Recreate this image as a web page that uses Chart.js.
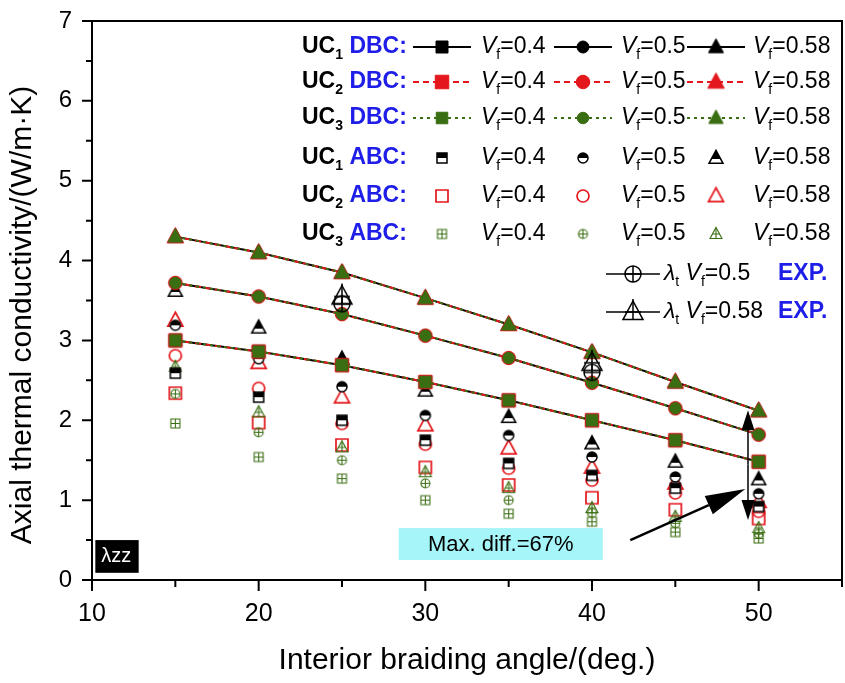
<!DOCTYPE html>
<html>
<head>
<meta charset="utf-8">
<script src="https://cdn.jsdelivr.net/npm/chart.js@4/dist/chart.umd.min.js"></script>
<style>
  body { margin: 0; background: #fff; }
</style>
</head>
<body>
<canvas id="chart" width="845" height="683"></canvas>
<script>
// interior braiding angles (deg.)
const angles = [15, 20, 25, 30, 35, 40, 45, 50];

// DBC predictions (UC1, UC2 and UC3 give the same curves)
const dbcVf04 = [3.0, 2.86, 2.69, 2.48, 2.25, 2.0, 1.75, 1.48];
const dbcVf05 = [3.72, 3.55, 3.33, 3.06, 2.78, 2.47, 2.15, 1.82];
const dbcVf058 = [4.3, 4.1, 3.85, 3.53, 3.2, 2.85, 2.48, 2.12];

// ABC predictions
const uc1AbcVf04 = [2.59, 2.29, 2.0, 1.75, 1.46, 1.31, 1.15, 0.92];
const uc1AbcVf05 = [3.19, 2.77, 2.42, 2.06, 1.81, 1.54, 1.29, 1.08];
const uc1AbcVf058 = [3.62, 3.16, 2.77, 2.37, 2.04, 1.71, 1.48, 1.26];
const uc2AbcVf04 = [2.34, 1.97, 1.69, 1.41, 1.19, 1.03, 0.88, 0.77];
const uc2AbcVf05 = [2.81, 2.4, 1.96, 1.7, 1.4, 1.25, 1.09, 0.86];
const uc2AbcVf058 = [3.25, 2.72, 2.29, 1.94, 1.65, 1.41, 1.21, 0.98];
const uc3AbcVf04 = [1.96, 1.54, 1.27, 1.0, 0.83, 0.73, 0.6, 0.52];
const uc3AbcVf05 = [2.33, 1.85, 1.5, 1.21, 1.0, 0.84, 0.71, 0.58];
const uc3AbcVf058 = [2.67, 2.1, 1.66, 1.35, 1.15, 0.9, 0.79, 0.65];

// experiments (lambda_t)
const expAngles = [25, 40];
const expVf05 = [3.46, 2.6];
const expVf058 = [3.55, 2.72];

const xTicks = [10, 20, 30, 40, 50];
const yTicks = [0, 1, 2, 3, 4, 5, 6, 7];
const vfNames = ['0.4', '0.5', '0.58'];

const F = 'Liberation Sans, Arial, sans-serif';
const RED = '#e3171c';
const GREEN = '#3a6e12';
const BLUE = '#1e1ee8';

// marker images
function shapePath(g, shape, c, s) {
  g.beginPath();
  if (shape === 'square') g.rect(c - s / 2, c - s / 2, s, s);
  else if (shape === 'circle') g.arc(c, c, s / 2, 0, Math.PI * 2);
  else {
    g.moveTo(c, c - s * 0.55);
    g.lineTo(c + s / 2, c + s * 0.38);
    g.lineTo(c - s / 2, c + s * 0.38);
    g.closePath();
  }
}

function makeMarker(shape, s, o) {
  const n = Math.ceil(s + 8);
  const cv = document.createElement('canvas');
  cv.width = cv.height = n;
  const g = cv.getContext('2d');
  const c = n / 2;
  if (o.fill) {
    shapePath(g, shape, c, s);
    g.fillStyle = o.fill;
    g.fill();
  }
  if (o.half) {
    g.save();
    shapePath(g, shape, c, s);
    g.clip();
    g.fillStyle = o.half;
    g.fillRect(0, 0, n, shape === 'triangle' ? c + 1 : c);
    g.restore();
  }
  g.strokeStyle = o.stroke;
  g.lineWidth = o.lw;
  if (o.cross) {
    g.beginPath();
    if (shape === 'triangle') {
      g.moveTo(c, c - s * 0.55 - o.ext);
      g.lineTo(c, c + s * 0.38);
      g.moveTo(c - s * 0.3 - o.ext, c);
      g.lineTo(c + s * 0.3 + o.ext, c);
    } else {
      g.moveTo(c, c - s / 2 - o.ext);
      g.lineTo(c, c + s / 2 + o.ext);
      g.moveTo(c - s / 2 - o.ext, c);
      g.lineTo(c + s / 2 + o.ext, c);
    }
    g.stroke();
  }
  shapePath(g, shape, c, s);
  g.stroke();
  return cv;
}

const shapes = ['square', 'circle', 'triangle'];
const dbcSize = { square: 12, circle: 12, triangle: 15 };
const dbcMarks = [
  shapes.map(sh => makeMarker(sh, dbcSize[sh], { fill: '#000', stroke: '#000', lw: 1 })),
  shapes.map(sh => makeMarker(sh, dbcSize[sh] + 1.5, { fill: RED, stroke: RED, lw: 1 })),
  shapes.map(sh => makeMarker(sh, dbcSize[sh] - 0.5, { fill: GREEN, stroke: GREEN, lw: 1 }))
];
const abcMarks = [
  shapes.map(sh => makeMarker(sh, sh === 'triangle' ? 14 : 10, { fill: '#fff', half: '#000', stroke: '#000', lw: 1.5 })),
  shapes.map(sh => makeMarker(sh, sh === 'triangle' ? 15 : 12, { stroke: RED, lw: 1.7 })),
  shapes.map(sh => makeMarker(sh, sh === 'triangle' ? 12 : 9, { cross: true, ext: 0, stroke: GREEN, lw: 1.1 }))
];
const expMarks = [
  makeMarker('circle', 16, { cross: true, ext: 0, stroke: '#000', lw: 1.5 }),
  makeMarker('triangle', 20, { cross: true, ext: 2, stroke: '#000', lw: 1.5 })
];

function pts(xs, ys) {
  return xs.map((a, i) => ({ x: a, y: ys[i] }));
}

const dbcData = [dbcVf04, dbcVf05, dbcVf058];
const abcData = [
  [uc1AbcVf04, uc1AbcVf05, uc1AbcVf058],
  [uc2AbcVf04, uc2AbcVf05, uc2AbcVf058],
  [uc3AbcVf04, uc3AbcVf05, uc3AbcVf058]
];
const lineColors = ['#000', RED, GREEN];
const lineDash = [[], [6, 4], [3, 4]];
const dbcOrder = [3, 2, 1];
const abcOrder = [4, 6, 5];

const datasets = [];
for (let u = 0; u < 3; u++) {
  for (let v = 0; v < 3; v++) {
    datasets.push({
      label: 'UC' + (u + 1) + ' DBC Vf=' + vfNames[v],
      data: pts(angles, dbcData[v]),
      showLine: true,
      borderColor: lineColors[u],
      borderWidth: 2,
      borderDash: lineDash[u],
      pointStyle: dbcMarks[u][v],
      order: dbcOrder[u]
    });
  }
}
for (let u = 0; u < 3; u++) {
  for (let v = 0; v < 3; v++) {
    datasets.push({
      label: 'UC' + (u + 1) + ' ABC Vf=' + vfNames[v],
      data: pts(angles, abcData[u][v]),
      showLine: false,
      pointStyle: abcMarks[u][v],
      order: abcOrder[u]
    });
  }
}
datasets.push({ label: 'EXP Vf=0.5', data: pts(expAngles, expVf05), showLine: false, pointStyle: expMarks[0], order: 0 });
datasets.push({ label: 'EXP Vf=0.58', data: pts(expAngles, expVf058), showLine: false, pointStyle: expMarks[1], order: 0 });

// text helpers
function rich(ctx, x, y, parts) {
  ctx.textBaseline = 'middle';
  ctx.textAlign = 'left';
  parts.forEach(p => {
    ctx.font = p.font;
    ctx.fillStyle = p.color || '#000';
    ctx.fillText(p.t, x, y + (p.dy || 0));
    x += ctx.measureText(p.t).width;
  });
  return x;
}
function ucLabel(ctx, x, y, n, kind) {
  rich(ctx, x, y, [
    { t: 'UC', font: 'bold 23px ' + F },
    { t: n, font: 'bold 14px ' + F, dy: 8 },
    { t: ' ' + kind + ':', font: 'bold 23px ' + F, color: BLUE }
  ]);
}
function vfParts(v) {
  return [
    { t: 'V', font: 'italic 23px ' + F },
    { t: 'f', font: '14px ' + F, dy: 8 },
    { t: '=' + v, font: '23px ' + F }
  ];
}
function putImg(ctx, img, x, y) {
  ctx.drawImage(img, x - img.width / 2, y - img.height / 2);
}
function arrow(ctx, x0, y0, x1, y1, len, half) {
  const a = Math.atan2(y1 - y0, x1 - x0);
  const bx = x1 - len * Math.cos(a), by = y1 - len * Math.sin(a);
  ctx.beginPath();
  ctx.moveTo(x0, y0);
  ctx.lineTo(bx, by);
  ctx.stroke();
  ctx.beginPath();
  ctx.moveTo(x1, y1);
  ctx.lineTo(bx + half * Math.sin(a), by - half * Math.cos(a));
  ctx.lineTo(bx - half * Math.sin(a), by + half * Math.cos(a));
  ctx.closePath();
  ctx.fill();
}

const legendCols = [442, 583, 716];
const legendText = [481, 621, 753];
const legendRowsY = [47, 82, 118, 158, 196, 234, 274, 312];

const decor = {
  id: 'decor',
  beforeDatasetsDraw(chart) {
    const { ctx, scales: { x, y } } = chart;
    ctx.save();
    // cyan note box
    const bx0 = x.getPixelForValue(28.4), bx1 = x.getPixelForValue(40.65);
    const by0 = y.getPixelForValue(0.65), by1 = y.getPixelForValue(0.25);
    ctx.fillStyle = '#a6f5f8';
    ctx.fillRect(bx0, by0, bx1 - bx0, by1 - by0);
    ctx.fillStyle = '#000';
    ctx.font = '22px ' + F;
    ctx.textAlign = 'center';
    ctx.textBaseline = 'middle';
    ctx.fillText('Max. diff.=67%', (bx0 + bx1) / 2, (by0 + by1) / 2 + 1);
    ctx.restore();
  },
  afterDatasetsDraw(chart) {
    const { ctx, chartArea: ca, scales: { x, y } } = chart;
    ctx.save();
    ctx.fillStyle = '#000';
    ctx.strokeStyle = '#000';
    // vertical double arrow
    const ax = x.getPixelForValue(49.36);
    const ym = y.getPixelForValue(1.45);
    ctx.lineWidth = 1.5;
    arrow(ctx, ax, ym, ax, y.getPixelForValue(2.125), 20, 6.5);
    arrow(ctx, ax, ym, ax, y.getPixelForValue(0.75), 20, 6.5);
    // diagonal arrow
    ctx.lineWidth = 2.5;
    arrow(ctx, x.getPixelForValue(42.3), y.getPixelForValue(0.5), x.getPixelForValue(49.2), y.getPixelForValue(1.14), 40, 10);

    // lambda_zz tag
    const tx0 = x.getPixelForValue(10.2), tx1 = x.getPixelForValue(12.8);
    const ty0 = y.getPixelForValue(0.5), ty1 = y.getPixelForValue(0.09);
    ctx.fillRect(tx0, ty0, tx1 - tx0, ty1 - ty0);
    ctx.fillStyle = '#fff';
    ctx.font = '20px ' + F;
    ctx.textAlign = 'left';
    ctx.textBaseline = 'middle';
    ctx.fillText('λzz', tx0 + 6, (ty0 + ty1) / 2);

    // frame
    ctx.lineWidth = 2;
    ctx.strokeRect(ca.left, ca.top, ca.right - ca.left, ca.bottom - ca.top);
    // ticks
    ctx.lineWidth = 2;
    ctx.beginPath();
    for (let v = 0; v <= 7; v += 0.5) {
      const py = y.getPixelForValue(v);
      const l = v % 1 === 0 ? 10 : 6;
      ctx.moveTo(ca.left, py);
      ctx.lineTo(ca.left - l, py);
    }
    for (let v = 10; v <= 55; v += 5) {
      const px = x.getPixelForValue(v);
      const l = v % 10 === 0 ? 11 : 7;
      ctx.moveTo(px, ca.bottom);
      ctx.lineTo(px, ca.bottom + l);
    }
    ctx.stroke();
    ctx.restore();
  },
  afterDraw(chart) {
    const { ctx } = chart;
    ctx.save();
    // axis titles
    ctx.fillStyle = '#000';
    ctx.font = '30px ' + F;
    ctx.textAlign = 'center';
    ctx.textBaseline = 'middle';
    ctx.fillText('Interior braiding angle/(deg.)', 467, 661);
    ctx.translate(23, 315);
    ctx.rotate(-Math.PI / 2);
    ctx.fillText('Axial thermal conductivity/(W/m·K)', 0, 0);
    ctx.setTransform(1, 0, 0, 1, 0, 0);

    // legend
    const X0 = 302;
    for (let u = 0; u < 3; u++) {
      const ry = legendRowsY[u];
      ucLabel(ctx, X0, ry, String(u + 1), 'DBC');
      for (let v = 0; v < 3; v++) {
        ctx.strokeStyle = lineColors[u];
        ctx.lineWidth = 2;
        ctx.setLineDash(lineDash[u]);
        ctx.beginPath();
        ctx.moveTo(legendCols[v] - 29, ry);
        ctx.lineTo(legendCols[v] + 29, ry);
        ctx.stroke();
        ctx.setLineDash([]);
        putImg(ctx, dbcMarks[u][v], legendCols[v], ry);
        rich(ctx, legendText[v], ry, vfParts(vfNames[v]));
      }
    }
    for (let u = 0; u < 3; u++) {
      const ry = legendRowsY[u + 3];
      ucLabel(ctx, X0, ry, String(u + 1), 'ABC');
      for (let v = 0; v < 3; v++) {
        putImg(ctx, abcMarks[u][v], legendCols[v], ry);
        rich(ctx, legendText[v], ry, vfParts(vfNames[v]));
      }
    }
    ['0.5', '0.58'].forEach((vf, i) => {
      const ry = legendRowsY[6 + i];
      ctx.strokeStyle = '#000';
      ctx.lineWidth = 1.5;
      ctx.beginPath();
      ctx.moveTo(606, ry);
      ctx.lineTo(660, ry);
      ctx.stroke();
      putImg(ctx, expMarks[i], 633, ry);
      rich(ctx, 664, ry, [
        { t: 'λ', font: 'italic 23px ' + F },
        { t: 't', font: '14px ' + F, dy: 8 },
        { t: ' ', font: '23px ' + F }
      ].concat(vfParts(vf)));
      rich(ctx, 778, ry, [{ t: 'EXP.', font: 'bold 23px ' + F, color: BLUE }]);
    });
    ctx.restore();
  }
};

new Chart(document.getElementById('chart'), {
  type: 'scatter',
  data: { datasets: datasets },
  options: {
    responsive: false,
    animation: false,
    devicePixelRatio: 1,
    layout: { autoPadding: false, padding: { top: 21, right: 3, left: 0, bottom: 0 } },
    elements: { point: { radius: 6, hoverRadius: 6 } },
    plugins: { legend: { display: false }, tooltip: { enabled: false } },
    scales: {
      x: {
        type: 'linear',
        min: 10,
        max: 55,
        afterBuildTicks: s => { s.ticks = xTicks.map(v => ({ value: v })); },
        afterFit: s => { s.height = 103; s.paddingLeft = 0; s.paddingRight = 0; },
        grid: { display: false, drawTicks: false },
        border: { display: false },
        ticks: { color: '#000', font: { family: F, size: 25 }, padding: 19, maxRotation: 0 }
      },
      y: {
        min: 0,
        max: 7,
        afterBuildTicks: s => { s.ticks = yTicks.map(v => ({ value: v })); },
        afterFit: s => { s.width = 92; s.paddingTop = 0; s.paddingBottom = 0; },
        grid: { display: false, drawTicks: false },
        border: { display: false },
        ticks: { color: '#000', font: { family: F, size: 24 }, padding: 20 }
      }
    }
  },
  plugins: [decor]
});
</script>
</body>
</html>
